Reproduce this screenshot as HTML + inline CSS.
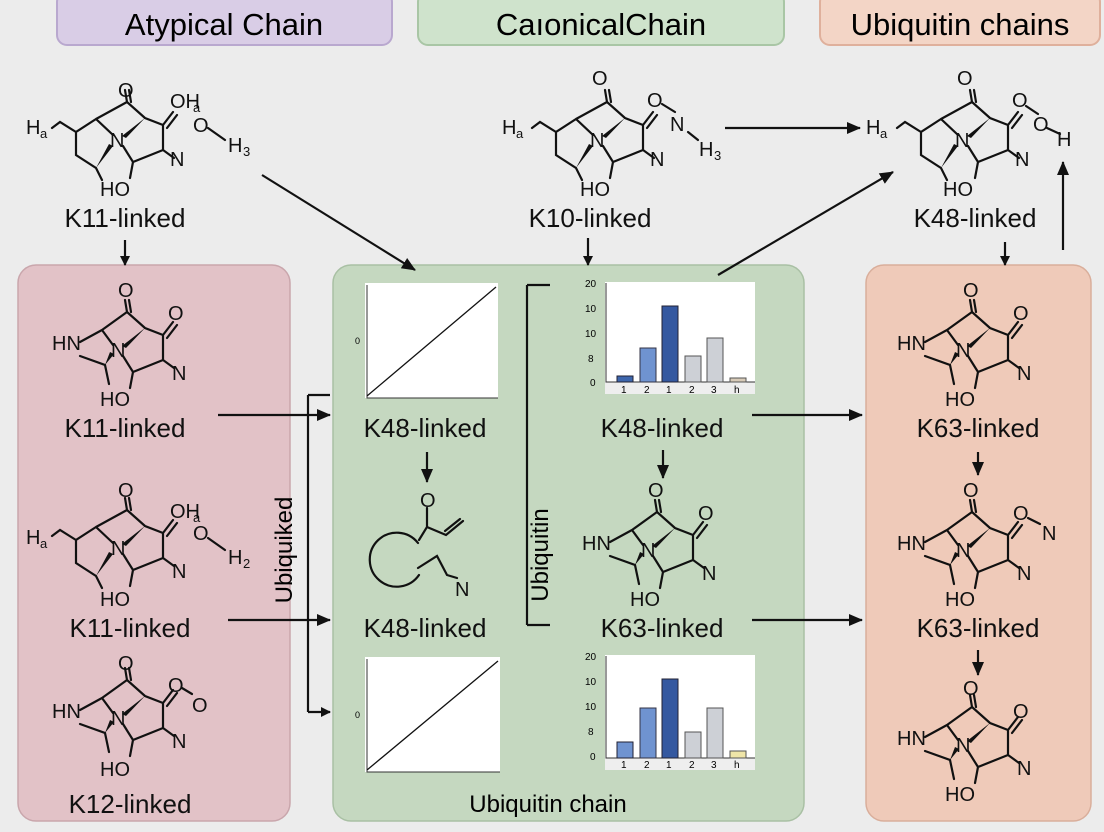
<!DOCTYPE html>
<html><head><meta charset="utf-8"><style>
body{margin:0;background:#ececec;}
svg{display:block;font-family:"Liberation Sans",sans-serif;}
.b{stroke:#111;stroke-width:2.2;fill:none;stroke-linecap:round}
.a{stroke:#111;stroke-width:2.2;fill:none}
.t{font-size:20px;fill:#111}
.l{font-size:26px;fill:#111;text-anchor:middle}
</style></head><body>
<svg width="1104" height="832" viewBox="0 0 1104 832">
<defs>
<marker id="ah" markerWidth="10" markerHeight="10" refX="9" refY="5" orient="auto" markerUnits="userSpaceOnUse"><path d="M0,0 L10,5 L0,10 z" fill="#111"/></marker>
<marker id="ah2" markerWidth="14" markerHeight="14" refX="13" refY="7" orient="auto" markerUnits="userSpaceOnUse"><path d="M0,1 L14,7 L0,13 z" fill="#111"/></marker>
<g id="mA">
<path class="b" d="M9,-38 L7,-50 M13,-38 L11,-50 M9,-38 L-16,-20 M9,-38 L27,-22 L45,-15 M45,-15 L55,-28 M49,-12 L59,-25 M45,-15 L45,10 L56,18 M45,10 L15,22 L5,6 M15,22 L12,38 M-16,-20 L-5,-5 M-16,-20 L-38,-8 M-38,6 L-13,15 L-9,34"/>
<path d="M27,-22 L4,-4 L8,-2 z M-13,15 L-4,4 L-8,2 z" fill="#111"/>
</g>
<g id="mB">
<path class="b" d="M9,-38 L7,-50 M13,-38 L11,-50 M9,-38 L-22,-21 M9,-38 L27,-22 L45,-15 M45,-15 L55,-28 M49,-12 L59,-25 M45,-15 L45,10 L56,18 M45,10 L15,22 L5,6 M15,22 L12,38 M-22,-21 L-5,-5 M-22,-21 L-42,-8 L-42,15 L-22,28 L-16,40 M-42,-8 L-58,-18 L-66,-12"/>
<path d="M27,-22 L4,-4 L8,-2 z M-22,28 L-5,6 L-9,4 z" fill="#111"/>
</g>
</defs>
<!-- headers -->
<rect x="57" y="-8" width="335" height="53" rx="10" fill="#d9cde6" stroke="#b9a8cf" stroke-width="2"/>
<text x="224" y="35" style="font-size:31px;text-anchor:middle">Atypical Chain</text>
<rect x="418" y="-8" width="366" height="53" rx="10" fill="#cfe3cc" stroke="#a9c6a5" stroke-width="2"/>
<text x="601" y="35" style="font-size:31px;text-anchor:middle">CaıonicalChain</text>
<rect x="820" y="-8" width="280" height="53" rx="10" fill="#f3d5c6" stroke="#dfb09c" stroke-width="2"/>
<text x="960" y="35" style="font-size:31px;text-anchor:middle">Ubiquitin chains</text>
<!-- panels -->
<rect x="18" y="265" width="272" height="556" rx="18" fill="#e2c2c7" stroke="#c9a6ac" stroke-width="1.5"/>
<rect x="333" y="265" width="471" height="556" rx="18" fill="#c5d8c0" stroke="#a9c0a4" stroke-width="1.5"/>
<rect x="866" y="265" width="225" height="556" rx="18" fill="#efcab9" stroke="#d9ae9b" stroke-width="1.5"/>
<!-- top molecules -->
<use href="#mB" x="118" y="140"/>
<text class="t" x="118" y="97">O</text><text class="t" x="170" y="108">OH</text><text class="t" x="193" y="112" style="font-size:13px">a</text>
<text class="t" x="193" y="132">O</text><path class="b" d="M208,128 L225,140"/><text class="t" x="228" y="152">H</text><text class="t" x="243" y="156" style="font-size:13px">3</text>
<text class="t" x="26" y="134">H</text><text class="t" x="40" y="138" style="font-size:13px">a</text>
<text class="t" x="110" y="147">N</text><text class="t" x="170" y="166">N</text><text class="t" x="100" y="196">HO</text>
<text class="l" x="125" y="227">K11-linked</text>

<use href="#mB" x="598" y="140"/>
<text class="t" x="592" y="85">O</text><text class="t" x="647" y="107">O</text><path class="b" d="M662,104 L675,112"/><text class="t" x="670" y="131">N</text><path class="b" d="M688,132 L698,140"/><text class="t" x="699" y="156">H</text><text class="t" x="714" y="160" style="font-size:13px">3</text>
<text class="t" x="502" y="134">H</text><text class="t" x="516" y="138" style="font-size:13px">a</text>
<text class="t" x="590" y="147">N</text><text class="t" x="650" y="166">N</text><text class="t" x="580" y="196">HO</text>
<text class="l" x="590" y="227">K10-linked</text>

<use href="#mB" x="963" y="140"/>
<text class="t" x="957" y="85">O</text><text class="t" x="1012" y="107">O</text><path class="b" d="M1026,106 L1038,114"/><text class="t" x="1033" y="131">O</text><path class="b" d="M1047,128 L1060,134"/><text class="t" x="1057" y="146">H</text>
<text class="t" x="866" y="134">H</text><text class="t" x="880" y="138" style="font-size:13px">a</text>
<text class="t" x="955" y="147">N</text><text class="t" x="1015" y="166">N</text><text class="t" x="943" y="196">HO</text>
<text class="l" x="975" y="227">K48-linked</text>

<!-- left panel molecules -->
<use href="#mA" x="118" y="350"/>
<text class="t" x="118" y="297">O</text><text class="t" x="168" y="320">O</text><text class="t" x="52" y="350">HN</text><text class="t" x="111" y="357">N</text><text class="t" x="172" y="380">N</text><text class="t" x="100" y="406">HO</text>
<text class="l" x="125" y="437">K11-linked</text>

<use href="#mB" x="118" y="548"/>
<text class="t" x="118" y="497">O</text><text class="t" x="170" y="518">OH</text><text class="t" x="193" y="522" style="font-size:13px">a</text>
<text class="t" x="193" y="540">O</text><path class="b" d="M208,538 L225,550"/><text class="t" x="228" y="564">H</text><text class="t" x="243" y="568" style="font-size:13px">2</text>
<text class="t" x="26" y="544">H</text><text class="t" x="40" y="548" style="font-size:13px">a</text>
<text class="t" x="111" y="555">N</text><text class="t" x="172" y="578">N</text><text class="t" x="100" y="606">HO</text>
<text class="l" x="130" y="637">K11-linked</text>

<use href="#mA" x="118" y="718"/>
<text class="t" x="118" y="670">O</text><text class="t" x="168" y="692">O</text><path class="b" d="M182,688 L192,694"/><text class="t" x="192" y="712">O</text><text class="t" x="52" y="718">HN</text><text class="t" x="111" y="725">N</text><text class="t" x="172" y="748">N</text><text class="t" x="100" y="776">HO</text>
<text class="l" x="130" y="813">K12-linked</text>

<!-- right panel molecules -->
<use href="#mA" x="963" y="350"/>
<text class="t" x="963" y="297">O</text><text class="t" x="1013" y="320">O</text><text class="t" x="897" y="350">HN</text><text class="t" x="956" y="357">N</text><text class="t" x="1017" y="380">N</text><text class="t" x="945" y="406">HO</text>
<text class="l" x="978" y="437">K63-linked</text>

<use href="#mA" x="963" y="550"/>
<text class="t" x="963" y="497">O</text><text class="t" x="1013" y="520">O</text><path class="b" d="M1028,518 L1040,524"/><text class="t" x="1042" y="540">N</text><text class="t" x="897" y="550">HN</text><text class="t" x="956" y="557">N</text><text class="t" x="1017" y="580">N</text><text class="t" x="945" y="606">HO</text>
<text class="l" x="978" y="637">K63-linked</text>

<use href="#mA" x="963" y="745"/>
<text class="t" x="963" y="695">O</text><text class="t" x="1013" y="718">O</text><text class="t" x="897" y="745">HN</text><text class="t" x="956" y="752">N</text><text class="t" x="1017" y="775">N</text><text class="t" x="945" y="801">HO</text>

<!-- center molecule K63 -->
<use href="#mA" x="648" y="550"/>
<text class="t" x="648" y="497">O</text><text class="t" x="698" y="520">O</text><text class="t" x="582" y="550">HN</text><text class="t" x="641" y="557">N</text><text class="t" x="702" y="580">N</text><text class="t" x="630" y="606">HO</text>
<text class="l" x="662" y="637">K63-linked</text>

<!-- center odd molecule -->
<text class="t" x="420" y="507">O</text>
<path class="b" d="M427,508 L427,527 L419,540 M427,527 L446,535 L463,521 M445,531 L460,519 M418,568 L437,556 L447,575 L457,578 M418,543 A27,27 0 1 0 419,575"/>
<text class="t" x="455" y="596">N</text>
<text class="l" x="425" y="437">K48-linked</text>
<text class="l" x="425" y="637">K48-linked</text>
<text class="l" x="662" y="437">K48-linked</text>

<!-- line charts -->
<rect x="365" y="283" width="133" height="115" fill="#fff"/>
<path d="M367,285 L367,398 L498,398" stroke="#333" stroke-width="1" fill="none"/>
<path d="M367,396 L496,287" stroke="#111" stroke-width="1.3"/>
<text x="355" y="344" style="font-size:9px">0</text>
<rect x="365" y="657" width="135" height="115" fill="#fff"/>
<path d="M367,659 L367,772 L500,772" stroke="#333" stroke-width="1" fill="none"/>
<path d="M367,770 L498,661" stroke="#111" stroke-width="1.3"/>
<text x="355" y="718" style="font-size:9px">0</text>

<!-- bar charts -->
<g font-size="10">
<rect x="605" y="282" width="150" height="100" fill="#fff"/>
<rect x="605" y="382" width="150" height="12" fill="#eee"/>
<text x="585" y="287">20</text><text x="585" y="312">10</text><text x="585" y="337">10</text><text x="588" y="362">8</text><text x="590" y="386">0</text>
<path d="M606,283 V382 H755" stroke="#333" fill="none"/>
<rect x="617" y="376" width="16" height="6" fill="#3d66ad" stroke="#223"/>
<rect x="640" y="348" width="16" height="34" fill="#6f93d0" stroke="#334"/>
<rect x="662" y="306" width="16" height="76" fill="#3458a0" stroke="#223"/>
<rect x="685" y="356" width="16" height="26" fill="#cdd0d6" stroke="#555"/>
<rect x="707" y="338" width="16" height="44" fill="#cdd0d6" stroke="#555"/>
<rect x="730" y="378" width="16" height="4" fill="#d8cbb8" stroke="#555"/>
<text x="621" y="393">1</text><text x="644" y="393">2</text><text x="666" y="393">1</text><text x="689" y="393">2</text><text x="711" y="393">3</text><text x="734" y="393">h</text>

<rect x="605" y="655" width="150" height="103" fill="#fff"/>
<rect x="605" y="758" width="150" height="12" fill="#eee"/>
<text x="585" y="660">20</text><text x="585" y="685">10</text><text x="585" y="710">10</text><text x="588" y="735">8</text><text x="590" y="760">0</text>
<path d="M606,656 V758 H755" stroke="#333" fill="none"/>
<rect x="617" y="742" width="16" height="16" fill="#6f93d0" stroke="#223"/>
<rect x="640" y="708" width="16" height="50" fill="#6f93d0" stroke="#334"/>
<rect x="662" y="679" width="16" height="79" fill="#3458a0" stroke="#223"/>
<rect x="685" y="732" width="16" height="26" fill="#cdd0d6" stroke="#555"/>
<rect x="707" y="708" width="16" height="50" fill="#cdd0d6" stroke="#555"/>
<rect x="730" y="751" width="16" height="7" fill="#efe5a8" stroke="#555"/>
<text x="621" y="768">1</text><text x="644" y="768">2</text><text x="666" y="768">1</text><text x="689" y="768">2</text><text x="711" y="768">3</text><text x="734" y="768">h</text>
</g>

<!-- brackets & vertical text -->
<path class="a" d="M308,395 V712"/>
<path class="a" d="M527,285 V625 M527,285 H550 M527,625 H550"/>
<text x="292" y="550" transform="rotate(-90 292 550)" style="font-size:24px;text-anchor:middle">Ubiquiked</text>
<text x="548" y="555" transform="rotate(-90 548 555)" style="font-size:24px;text-anchor:middle">Ubiquitin</text>
<text x="548" y="812" style="font-size:24px;text-anchor:middle">Ubiquitin chain</text>

<!-- arrows -->
<g class="a">
<path d="M125,240 V265" marker-end="url(#ah)"/>
<path d="M262,175 L415,270" marker-end="url(#ah2)"/>
<path d="M588,238 V265" marker-end="url(#ah)"/>
<path d="M725,128 H860" marker-end="url(#ah2)"/>
<path d="M718,275 L893,172" marker-end="url(#ah2)"/>
<path d="M1063,250 V162" marker-end="url(#ah2)"/>
<path d="M1005,242 V265" marker-end="url(#ah)"/>
<path d="M218,415 H330" marker-end="url(#ah2)"/>
<path d="M228,620 H330" marker-end="url(#ah2)"/>
<path d="M308,395 H330"/>
<path d="M308,712 H330" marker-end="url(#ah)"/>
<path d="M427,452 V482" marker-end="url(#ah2)"/>
<path d="M752,415 H862" marker-end="url(#ah2)"/>
<path d="M752,620 H862" marker-end="url(#ah2)"/>
<path d="M663,450 V478" marker-end="url(#ah2)"/>
<path d="M978,452 V475" marker-end="url(#ah2)"/>
<path d="M978,650 V675" marker-end="url(#ah2)"/>
</g>
</svg>
</body></html>
